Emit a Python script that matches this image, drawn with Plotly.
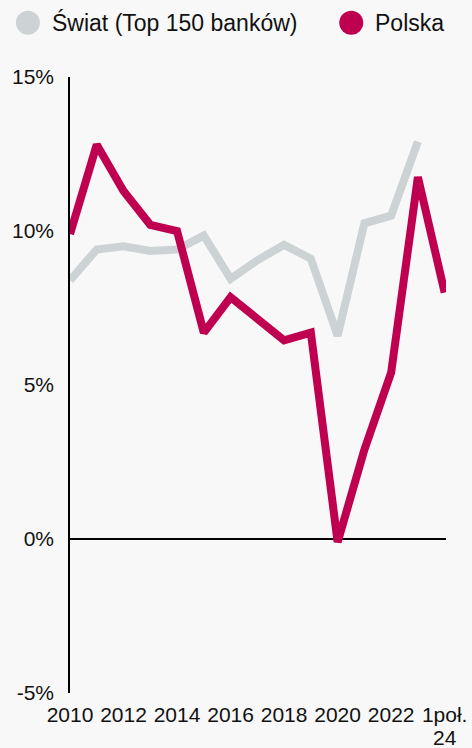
import plotly.graph_objects as go

# data (ROE, %)
periods = ["2010", "2011", "2012", "2013", "2014", "2015", "2016", "2017",
           "2018", "2019", "2020", "2021", "2022", "2023", "1H24"]
swiat = [8.4, 9.4, 9.5, 9.35, 9.4, 9.85, 8.45, 9.05, 9.55, 9.1, 6.6, 10.25, 10.5, 12.9]
polska = [9.9, 12.8, 11.3, 10.2, 10.0, 6.7, 7.85, 7.15, 6.45, 6.7, -0.1, 2.9, 5.4, 11.75, 8.0]

tick_idx = [0, 2, 4, 6, 8, 10, 12, 14]
tick_text = ["2010", "2012", "2014", "2016", "2018", "2020", "2022", "1poł."]
last_tick_line2 = "24"
y_ticks = [-5, 0, 5, 10, 15]
y_text = ["-5%", "0%", "5%", "10%", "15%"]

GRAY = "#CDD2D5"
RED = "#BF0050"
BG = "#F8F8F8"
FONT = "Arial, Liberation Sans, sans-serif"

x_all = list(range(len(periods)))

fig = go.Figure()
fig.add_trace(go.Scatter(x=x_all[:len(swiat)], y=swiat, mode="lines",
                         name="Świat (Top 150 banków)",
                         line=dict(color=GRAY, width=8), showlegend=False))
fig.add_trace(go.Scatter(x=x_all, y=polska, mode="lines", name="Polska",
                         line=dict(color=RED, width=8), showlegend=False))

# legend drawn by hand so the dots can be as large as in the original
legend_items = [("Świat (Top 150 banków)", GRAY, -0.112, -0.053),
                ("Polska", RED, 0.748, 0.806)]
for label, col, cx, tx in legend_items:
    fig.add_shape(type="circle", xref="paper", yref="paper",
                  xsizemode="pixel", ysizemode="pixel",
                  xanchor=cx, yanchor=1.088, x0=-12, x1=12, y0=-12, y1=12,
                  fillcolor=col, line=dict(width=0))
    fig.add_annotation(x=tx, y=1.088, xref="paper", yref="paper",
                       text=label, showarrow=False, xanchor="left",
                       yanchor="middle", font=dict(size=23, color="#111111"))

# second line of the last tick label, tighter than plotly's <br> spacing
fig.add_annotation(x=tick_idx[-1], y=-0.073, xref="x", yref="paper",
                   text=last_tick_line2, showarrow=False, xanchor="center",
                   yanchor="middle", font=dict(size=21, color="#111111"))

fig.update_layout(
    width=472, height=748,
    margin=dict(l=70, r=26, t=77, b=55, autoexpand=False),
    paper_bgcolor=BG, plot_bgcolor=BG,
    font=dict(family=FONT, size=21, color="#111111"),
)
fig.update_xaxes(range=[0, 14.05], tickvals=tick_idx, ticktext=tick_text,
                 showgrid=False, zeroline=False, showline=False, ticks="",
                 ticklabelstandoff=7, automargin=False, tickfont=dict(size=21))
fig.update_yaxes(range=[-5, 15], tickvals=y_ticks, ticktext=y_text,
                 showgrid=False, zeroline=True, zerolinecolor="black",
                 zerolinewidth=1.5, showline=True, linecolor="black",
                 linewidth=1.5, ticks="", ticklabelstandoff=10,
                 automargin=False, tickfont=dict(size=21))

# page has a default body margin; drop it so the figure sits at 0,0
fig.write_html("out.html", config={"displayModeBar": False},
               post_script="document.body.style.margin='0';"
                           "document.body.style.background='%s';" % BG)
